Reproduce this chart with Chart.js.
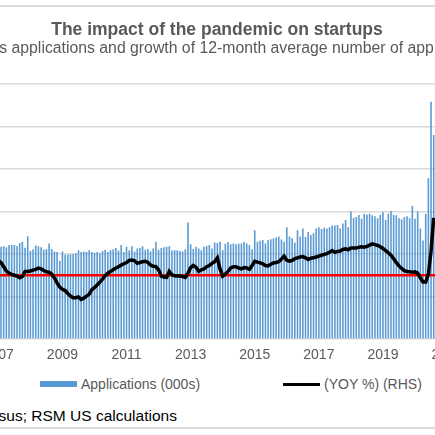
<!DOCTYPE html>
<html>
<head>
<meta charset="utf-8">
<title>The impact of the pandemic on startups</title>
<script src="https://cdn.jsdelivr.net/npm/chart.js@4.4.0/dist/chart.umd.min.js"></script>
<style>
  html, body { margin: 0; padding: 0; background: #fff; }
  #frame {
    position: relative; width: 435px; height: 435px; overflow: hidden;
    font-family: "Liberation Sans", Arial, sans-serif;
  }
  .rule { position: absolute; left: 0; width: 435px; height: 2px; background: #dcdcdc; }
  /* the figure is wider than the window: axis labels fall outside it */
  #chart-box { position: absolute; left: -103px; top: 0; width: 640px; height: 364px; }
  #legend {
    position: absolute; top: 376px; left: 40px; display: flex; gap: 83px;
    font-size: 14px; line-height: 16px; color: #595959; white-space: nowrap;
  }
  #legend .item { display: flex; align-items: center; gap: 4px; }
  #legend .mark { display: inline-block; width: 37px; }
  #source {
    position: absolute; top: 407px; left: -122px; font-size: 15.5px; line-height: 18px;
    color: #000; white-space: nowrap;
  }
</style>
</head>
<body>
<div id="frame">
  <div class="rule" style="top:5px"></div>
  <div id="chart-box"><canvas id="startups-chart"></canvas></div>
  <div id="legend"></div>
  <div id="source">Source: U.S. Census; RSM US calculations</div>
  <div class="rule" style="top:427px"></div>
</div>
<script>
// monthly categories, Jan 2007 .. Jan 2021
const startYear = 2007;
const monthCount = 169;
const months = Array.from({ length: monthCount }, (_, i) =>
  `${startYear + Math.floor(i / 12)}-${String(i % 12 + 1).padStart(2, '0')}`);

// years that get a label on the x axis
const tickYears = ['2007', '2009', '2011', '2013', '2015', '2017', '2019', '2021'];

// business applications, thousands (Jan 2007 .. Aug 2020)
const applications = [
  217, 217, 218, 216, 221, 221, 221, 219, 226, 229, 215, 242,
  207, 211, 220, 218, 216, 210, 211, 225, 212, 206, 205, 184,
  206, 198, 199, 199, 200, 202, 209, 205, 206, 205, 209, 205,
  203, 205, 202, 207, 210, 205, 209, 211, 214, 208, 221, 205,
  217, 209, 218, 206, 213, 214, 218, 210, 212, 206, 213, 229,
  210, 214, 216, 217, 218, 208, 209, 209, 207, 206, 211, 274,
  223, 212, 217, 213, 209, 217, 219, 221, 213, 227, 226, 229,
  209, 224, 228, 223, 225, 223, 224, 225, 228, 225, 221, 211,
  256, 229, 231, 233, 225, 233, 235, 237, 239, 241, 234, 229,
  263, 241, 237, 227, 256, 241, 260, 240, 252, 245, 249, 260,
  263, 259, 262, 260, 263, 267, 267, 268, 260, 272, 280, 263,
  300, 285, 287, 292, 283, 295, 293, 295, 291, 289, 284, 292,
  298, 280, 295, 301, 292, 291, 284, 282, 287, 289, 284, 313,
  283, 300, 260, 232, 295, 378, 558, 480
];

// growth of 12-month average, % year over year (RHS)
const yoyGrowth = [
  3.4, 3.0, 2.0, 1.0, 0.5, 0.2, 0.0, -0.2, -0.6, -0.3, 0.9, 0.9,
  1.0, 1.2, 1.4, 1.7, 1.5, 1.1, 0.8, 0.7, 0.3, -0.6, -1.8, -2.8,
  -3.3, -3.6, -4.3, -4.9, -5.3, -5.3, -5.1, -5.7, -5.4, -4.9, -4.5, -3.4,
  -2.9, -2.3, -1.6, -0.9, -0.1, 0.5, 0.9, 1.3, 1.7, 2.0, 2.4, 2.7,
  3.0, 3.5, 3.6, 3.4, 2.8, 3.0, 3.2, 3.3, 3.0, 2.4, 2.1, 2.0,
  1.3, -0.2, -0.4, -0.5, 0.9, 0.1, -0.1, -0.2, -0.2, -0.3, -0.5, 0.5,
  1.8, 2.3, 1.9, 0.9, 1.3, 1.5, 2.0, 2.3, 2.8, 3.2, 4.1, 1.5,
  -0.2, 0.3, 0.9, 1.7, 2.0, 2.0, 1.7, 1.5, 1.8, 1.7, 1.4, 2.3,
  3.3, 3.1, 2.9, 2.7, 2.3, 2.2, 2.6, 2.9, 3.0, 3.2, 3.8, 4.5,
  3.5, 3.3, 3.5, 3.9, 4.1, 4.3, 4.4, 4.1, 3.7, 4.0, 4.1, 4.3,
  4.5, 4.7, 4.9, 5.1, 5.4, 5.8, 5.4, 5.6, 5.7, 6.1, 6.2, 6.0,
  6.4, 6.4, 6.4, 6.6, 6.7, 6.6, 6.8, 7.1, 7.4, 7.2, 7.0, 6.7,
  6.3, 5.8, 5.3, 4.7, 3.9, 3.0, 2.2, 1.6, 1.1, 0.9, 0.8, 0.7,
  0.8, 0.5, -0.6, -1.6, -1.6, 0.2, 5.6, 13.5
];

// red reference line on the right axis
const zeroValue = 0;

const fontFamily = '"Liberation Sans", Arial, sans-serif';

const zeroLinePlugin = {
  id: 'zeroLine',
  afterDatasetDraw(chart, args) {
    if (args.index !== 1) return; // right after the bars, before the black line
    const { ctx, chartArea } = chart;
    const y = chart.scales.y1.getPixelForValue(zeroValue);
    ctx.save();
    ctx.strokeStyle = '#ff0000';
    ctx.lineWidth = 2.5;
    ctx.beginPath();
    ctx.moveTo(chartArea.left, y);
    ctx.lineTo(chartArea.right, y);
    ctx.stroke();
    ctx.restore();
  }
};

const chart = new Chart(document.getElementById('startups-chart'), {
  data: {
    labels: months,
    datasets: [
      {
        type: 'line',
        label: '(YOY %) (RHS)',
        data: yoyGrowth,
        yAxisID: 'y1',
        borderColor: '#000000',
        backgroundColor: '#000000',
        borderWidth: 3.5,
        pointRadius: 0,
        tension: 0
      },
      {
        type: 'bar',
        label: 'Applications (000s)',
        data: applications,
        yAxisID: 'y',
        backgroundColor: '#5b9bd5',
        categoryPercentage: 1,
        barPercentage: 0.6
      }
    ]
  },
  options: {
    responsive: true,
    maintainAspectRatio: false,
    animation: false,
    layout: { padding: 0 },
    plugins: {
      legend: { display: false },
      tooltip: { enabled: false },
      title: {
        display: true,
        text: 'The impact of the pandemic on startups',
        color: '#595959',
        font: { family: fontFamily, size: 17.5, weight: 'bold', lineHeight: 1 },
        padding: { top: 21.5, bottom: 0.5 }
      },
      subtitle: {
        display: true,
        text: 'Business applications and growth of 12-month average number of applications',
        color: '#595959',
        font: { family: fontFamily, size: 15.8, lineHeight: 1 },
        padding: { top: 1, bottom: 27.7 }
      }
    },
    scales: {
      x: {
        grid: { display: false, drawTicks: false },
        border: { display: false },
        ticks: {
          autoSkip: false,
          maxRotation: 0,
          minRotation: 0,
          padding: 8,
          color: '#595959',
          font: { family: fontFamily, size: 14 },
          callback: function (value) {
            const [yr, mo] = this.getLabelForValue(value).split('-');
            return (mo === '01' && tickYears.includes(yr)) ? yr : '';
          }
        },
        afterFit: (scale) => { scale.height = 25; }
      },
      y: {
        position: 'left',
        min: 0,
        max: 600,
        ticks: { stepSize: 100, color: '#595959', font: { family: fontFamily, size: 14 } },
        grid: { color: '#d9d9d9', lineWidth: 1.5, drawTicks: false },
        border: { display: false },
        afterFit: (scale) => { scale.width = 100; }
      },
      y1: {
        position: 'right',
        min: -15,
        max: 45,
        ticks: {
          stepSize: 10, color: '#595959', font: { family: fontFamily, size: 14 },
          callback: (v) => v + '%'
        },
        grid: { display: false, drawTicks: false },
        border: { display: false },
        afterFit: (scale) => { scale.width = 88.6; }
      }
    }
  },
  plugins: [zeroLinePlugin]
});

// legend in page text, bars first
const legendEl = document.getElementById('legend');
[chart.data.datasets[1], chart.data.datasets[0]].forEach((ds) => {
  const item = document.createElement('span');
  item.className = 'item';
  const mark = document.createElement('span');
  mark.className = 'mark';
  mark.style.height = ds.type === 'bar' ? '6px' : '3px';
  mark.style.background = ds.type === 'bar' ? ds.backgroundColor : ds.borderColor;
  const text = document.createElement('span');
  text.textContent = ds.label;
  item.appendChild(mark);
  item.appendChild(text);
  legendEl.appendChild(item);
});
</script>
</body>
</html>
